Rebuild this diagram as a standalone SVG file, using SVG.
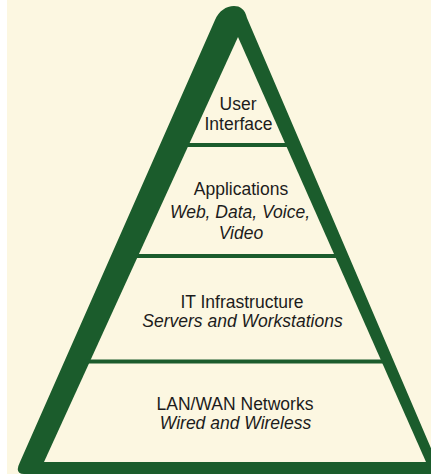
<svg xmlns="http://www.w3.org/2000/svg" width="431" height="476" viewBox="0 0 431 476">
  <style>
    .bg { fill: #FCF7E1; }
    .frame { fill: #1B5C2C; }
    .inner { fill: #FCF7E1; }
    .divider { stroke: #1B5C2C; stroke-width: 4; fill: none; }
    .t { font-family: "Liberation Sans", Arial, sans-serif; font-size: 17.5px; fill: #1C1C1C; text-anchor: middle; }
    .i { font-style: italic; }
  </style>
  <rect x="0" y="0" width="431" height="476" fill="#FFFFFF"/>
  <rect class="bg" x="7" y="0" width="424" height="474"/>

  <g id="pyramid-frame">
    <path class="frame" d="M 24,474 L 442,474 L 247,18 C 245,9 240,6 234,6 C 226,6 219,11 215,20 L 20,462 Q 14,474 24,474 Z"/>
    <path class="inner" d="M 238,37 L 426,462 L 44,462 Z"/>
  </g>

  <g id="connectors">
    <line class="divider" x1="184" y1="145" x2="290" y2="145"/>
    <line class="divider" x1="133" y1="256" x2="340" y2="256"/>
    <line class="divider" x1="84" y1="361.5" x2="387" y2="361.5"/>
  </g>

  <g id="user-interface">
    <text class="t" x="238" y="109.5">User</text>
    <text class="t" x="238.5" y="129.5">Interface</text>
  </g>

  <g id="applications">
    <text class="t" x="241" y="195">Applications</text>
    <text class="t i" x="240" y="217.5">Web, Data, Voice,</text>
    <text class="t i" x="241" y="238.5">Video</text>
  </g>

  <g id="it-infrastructure">
    <text class="t" x="242" y="307.5">IT Infrastructure</text>
    <text class="t i" x="242.5" y="327">Servers and Workstations</text>
  </g>

  <g id="lan-wan-networks">
    <text class="t" x="235" y="410">LAN/WAN Networks</text>
    <text class="t i" x="235.5" y="428.5">Wired and Wireless</text>
  </g>
</svg>
